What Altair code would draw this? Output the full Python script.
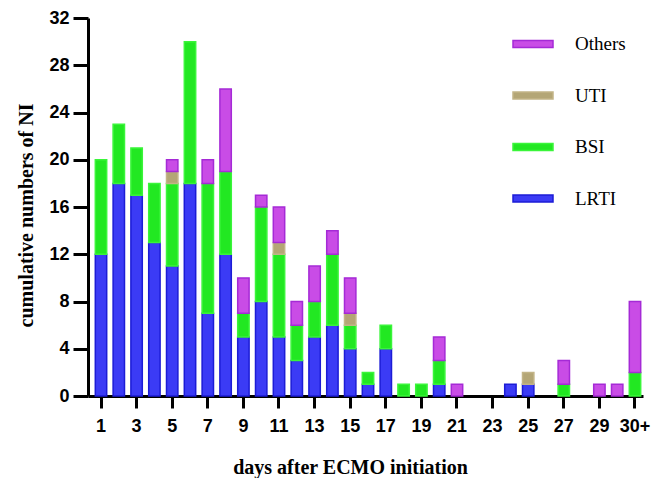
import altair as alt
import pandas as pd

days = [str(d) for d in range(1, 31)] + ["30+"]
LRTI = [12, 18, 17, 13, 11, 18, 7, 12, 5, 8, 5, 3, 5, 6, 4, 1, 4, 0, 0, 1, 0, 0, 0, 1, 1, 0, 0, 0, 0, 0, 0]
BSI = [8, 5, 4, 5, 7, 12, 11, 7, 2, 8, 7, 3, 3, 6, 2, 1, 2, 1, 1, 2, 0, 0, 0, 0, 0, 0, 1, 0, 0, 0, 2]
UTI = [0, 0, 0, 0, 1, 0, 0, 0, 0, 0, 1, 0, 0, 0, 1, 0, 0, 0, 0, 0, 0, 0, 0, 0, 1, 0, 0, 0, 0, 0, 0]
Others = [0, 0, 0, 0, 1, 0, 2, 7, 3, 1, 3, 2, 3, 2, 3, 0, 0, 0, 0, 2, 1, 0, 0, 0, 0, 0, 2, 0, 1, 1, 6]

types = ["Others", "UTI", "BSI", "LRTI"]
fills = ["#c94ce6", "#b4a676", "#22e822", "#3b3bf5"]
strokes = ["#a52ad6", "#c2b487", "#3af53a", "#1c1cd6"]
tick_days = [str(d) for d in range(1, 30, 2)] + ["30+"]

series = {"LRTI": LRTI, "BSI": BSI, "UTI": UTI, "Others": Others}
stack_rank = {"LRTI": 1, "BSI": 2, "UTI": 3, "Others": 4}
rows = []
for name, vals in series.items():
    for d, v in zip(days, vals):
        rows.append({"day": d, "type": name, "value": v, "rank": stack_rank[name]})
df = pd.DataFrame(rows)

legend = alt.Legend(
    title=None,
    orient="none",
    legendX=424,
    legendY=5,
    symbolType="M-1,-0.175L1,-0.175L1,0.175L-1,0.175Z",
    symbolSize=1600,
    symbolStrokeWidth=1.5,
    labelFont="Liberation Serif",
    labelFontSize=19,
    labelColor="black",
    labelOffset=21,
    rowPadding=20.5,
    padding=0,
)

chart = (
    alt.Chart(df)
    .transform_filter("datum.value > 0")
    .mark_bar(strokeWidth=1.5)
    .encode(
        x=alt.X(
            "day:N",
            sort=days,
            scale=alt.Scale(domain=days, paddingInner=0.36, paddingOuter=0.27, align=0.76),
            axis=alt.Axis(
                values=tick_days,
                labelAngle=0,
                title="days after ECMO initiation",
                titleFont="Liberation Serif",
                titleFontSize=20,
                titleFontWeight="bold",
                titleColor="black",
                titlePadding=22,
                titleX=262,
                titleAlign="center",
                labelFont="Liberation Sans",
                labelFontSize=18,
                labelFontWeight="bold",
                labelColor="black",
                labelPadding=9,
                tickSize=12,
                tickWidth=3,
                tickColor="black",
                domainColor="black",
                domainWidth=3,
                grid=False,
            ),
        ),
        y=alt.Y(
            "value:Q",
            stack="zero",
            scale=alt.Scale(domain=[0, 32], nice=False),
            axis=alt.Axis(
                values=list(range(0, 33, 4)),
                title="cumulative numbers of NI",
                titleFont="Liberation Serif",
                titleFontSize=20,
                titleFontWeight="bold",
                titleColor="black",
                titleAngle=270,
                titleX=-62,
                titleY=197,
                titleAlign="center",
                titleBaseline="middle",
                labelFont="Liberation Sans",
                labelFontSize=18,
                labelFontWeight="bold",
                labelColor="black",
                labelPadding=4,
                tickSize=15,
                tickWidth=3,
                tickColor="black",
                domainColor="black",
                domainWidth=3,
                grid=False,
            ),
        ),
        fill=alt.Fill("type:N", scale=alt.Scale(domain=types, range=fills), legend=legend),
        stroke=alt.Stroke("type:N", scale=alt.Scale(domain=types, range=strokes), legend=legend),
        order=alt.Order("rank:Q", sort="ascending"),
    )
    .properties(
        width=555,
        height=378,
        autosize=alt.AutoSizeParams(type="none"),
        padding={"left": 80, "top": 10, "right": 8, "bottom": 82},
        background="white",
    )
    .configure_view(stroke=None)
)

chart.save("out.html", embed_options={"renderer": "svg", "actions": False})
